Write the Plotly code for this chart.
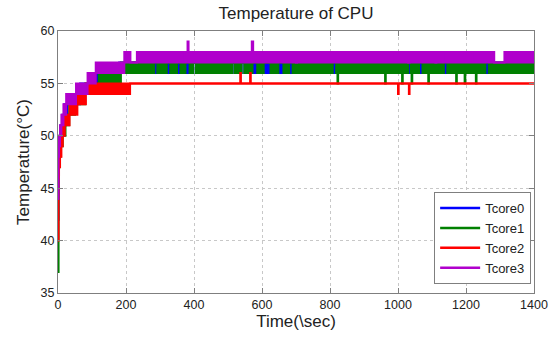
import plotly.graph_objects as go

T_END = 1400

# ---------------- Tcore0 (blue) ----------------
c0_early_t = [0, 1, 2, 4, 7, 12, 18, 27, 40, 65, 100, 140]
c0_early_lo = [42, 46, 48, 49, 50, 51, 52, 53, 53, 54, 55, 55]
c0_early_hi = [42, 48, 49, 50, 51, 52, 53, 54, 54, 55, 56, 56]
c0_base = (180, 56, 57)
c0_ev_s = [205, 222, 240, 255, 268, 295, 305, 340, 365, 397, 410, 420, 435, 448, 460, 475,
           490, 503, 513, 530, 540, 595, 635, 670, 700, 715, 728, 740, 755, 770, 790]
c0_ev_e = [208, 226, 243, 258, 271, 297, 308, 343, 368, 405, 413, 423, 438, 451, 463, 478,
           493, 506, 520, 533, 548, 598, 638, 673, 703, 718, 731, 744, 758, 773, 793]
c0_ev_lo = [57] * 31
c0_ev_hi = [57] * 31

# ---------------- Tcore1 (green) ----------------
c1_early_t = [0, 1, 2, 4, 8, 14, 22, 33, 50, 80, 120, 150]
c1_early_lo = [37, 44, 47, 48, 49, 50, 51, 52, 53, 54, 55, 55]
c1_early_hi = [37, 47, 48, 49, 50, 51, 52, 53, 54, 55, 56, 56]
c1_base = (185, 56, 57)
c1_ev_s = [205, 222, 240, 255, 268, 283, 295, 305, 320, 340, 350, 365, 375, 397, 410, 420,
           435, 448, 460, 475, 490, 503, 513, 530, 540, 572, 595, 605, 635, 648, 670, 680,
           700, 715, 728, 740, 755, 770, 790, 808, 822, 962, 1012, 1030, 1040, 1062, 1089,
           1135, 1171, 1196, 1229, 1257]
c1_ev_e = [208, 226, 243, 258, 271, 292, 297, 308, 330, 343, 360, 368, 387, 405, 413, 423,
           438, 451, 463, 478, 493, 506, 520, 533, 548, 586, 598, 625, 638, 663, 673, 690,
           703, 718, 731, 744, 758, 773, 793, 818, 824, 964, 1014, 1038, 1042, 1072, 1091,
           1145, 1173, 1198, 1231, 1267]
c1_ev_lo = [57] * 40 + [55, 55, 55, 57, 55, 57, 55, 57, 55, 55, 55, 57]
c1_ev_hi = [57] * 52

# ---------------- Tcore2 (red) ----------------
c2_early_t = [0, 1, 3, 6, 10, 14, 20, 34, 57, 82, 130]
c2_early_lo = [40, 46, 47, 48, 49, 50, 51, 52, 53, 54, 54]
c2_early_hi = [40, 47, 48, 49, 50, 51, 52, 53, 54, 55, 55]
c2_base = (212, 55, 55)
c2_ev_s = [536, 565, 1000, 1032]
c2_ev_e = [538, 567, 1002, 1034]
c2_ev_lo = [55, 55, 54, 54]
c2_ev_hi = [56, 56, 55, 55]

# ---------------- Tcore3 (magenta) ----------------
c3_early_t = [0, 1, 3, 6, 10, 16, 24, 36, 53, 87, 111]
c3_early_lo = [44, 48, 49, 50, 51, 52, 53, 53, 54, 55, 56]
c3_early_hi = [44, 49, 50, 51, 52, 53, 54, 54, 55, 56, 57]
c3_base = (195, 57, 58)
c3_ev_s = [213, 300, 330, 372, 381, 440, 470, 520, 570, 600, 700, 760, 900, 955, 990,
           1030, 1075, 1110, 1133, 1218, 1260, 1283, 1340]
c3_ev_e = [232, 302, 332, 374, 384, 442, 472, 522, 574, 602, 703, 762, 902, 957, 992,
           1034, 1077, 1113, 1135, 1220, 1262, 1313, 1342]
c3_ev_lo = [57, 58, 58, 58, 57, 58, 58, 58, 57, 58, 57, 58, 58, 58, 58,
            57, 58, 57, 58, 58, 58, 57, 58]
c3_ev_hi = [57, 58, 58, 58, 59, 58, 58, 58, 59, 58, 57, 58, 58, 58, 58,
            57, 58, 57, 58, 58, 58, 57, 58]

names = ["Tcore0", "Tcore1", "Tcore2", "Tcore3"]
colors = ["#0000FF", "#008000", "#FF0000", "#B000CC"]


def build(et, elo, ehi, base, s, e, lo, hi):
    T, LO, HI = list(et), list(elo), list(ehi)
    b0, blo, bhi = base
    T.append(b0); LO.append(blo); HI.append(bhi)
    for a, b, l, h in zip(s, e, lo, hi):
        T += [a, b]; LO += [l, blo]; HI += [h, bhi]
    T.append(T_END); LO.append(blo); HI.append(bhi)
    return T, LO, HI


series = [
    build(c0_early_t, c0_early_lo, c0_early_hi, c0_base, c0_ev_s, c0_ev_e, c0_ev_lo, c0_ev_hi),
    build(c1_early_t, c1_early_lo, c1_early_hi, c1_base, c1_ev_s, c1_ev_e, c1_ev_lo, c1_ev_hi),
    build(c2_early_t, c2_early_lo, c2_early_hi, c2_base, c2_ev_s, c2_ev_e, c2_ev_lo, c2_ev_hi),
    build(c3_early_t, c3_early_lo, c3_early_hi, c3_base, c3_ev_s, c3_ev_e, c3_ev_lo, c3_ev_hi),
]

fig = go.Figure()
for (T, LO, HI), name, col in zip(series, names, colors):
    fig.add_trace(go.Scatter(x=T, y=LO, mode="lines", line=dict(color=col, width=2, shape="hv"),
                             showlegend=False, hoverinfo="skip"))
    fig.add_trace(go.Scatter(x=T, y=HI, mode="lines", line=dict(color=col, width=2, shape="hv"),
                             fill="tonexty", fillcolor=col, showlegend=False, name=name))

for name, col in zip(names, colors):
    fig.add_trace(go.Scatter(x=[None], y=[None], mode="lines", name=name,
                             line=dict(color=col, width=2.5)))

FONT = "Liberation Sans, Arial, Helvetica, sans-serif"
axis_common = dict(
    showline=True, linecolor="#7f7f7f", linewidth=1, mirror="ticks",
    ticks="inside", ticklen=5, tickcolor="#7f7f7f",
    showgrid=True, gridcolor="#c8c8c8", griddash="dot", gridwidth=1,
    zeroline=False, tickfont=dict(family=FONT, size=12.5, color="#222222"),
)

fig.update_layout(
    width=560, height=338,
    margin=dict(l=58, r=20, t=31, b=44),
    paper_bgcolor="white", plot_bgcolor="white",
    title=dict(text="Temperature of CPU", font=dict(family=FONT, size=17, color="#222222"),
               x=0.5, xref="paper", xanchor="center", y=0.962, yref="container", yanchor="middle"),
    xaxis=dict(range=[0, 1400], tickvals=[0, 200, 400, 600, 800, 1000, 1200, 1400],
               title=dict(text="Time(\\sec)", font=dict(family=FONT, size=17, color="#222222"), standoff=2),
               **axis_common),
    yaxis=dict(range=[35, 60], tickvals=[35, 40, 45, 50, 55, 60],
               title=dict(text="Temperature(°C)", font=dict(family=FONT, size=17, color="#222222"), standoff=6),
               **axis_common),
    legend=dict(x=0.994, y=0.034, xanchor="right", yanchor="bottom", traceorder="normal",
                bgcolor="white", bordercolor="#7f7f7f", borderwidth=1, itemwidth=40,
                font=dict(family=FONT, size=13, color="#222222"), tracegroupgap=0),
    showlegend=True,
)

fig.write_html("out.html")
